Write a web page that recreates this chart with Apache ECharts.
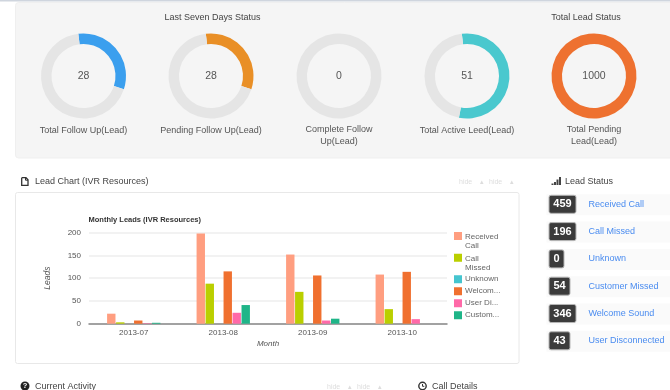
<!DOCTYPE html>
<html>
<head>
<meta charset="utf-8">
<style>
html, body { margin: 0; padding: 0; background: #fff; }
#main { width: 670px; height: 390px; }
</style>
<script src="https://cdn.jsdelivr.net/npm/echarts@6/dist/echarts.min.js"></script>
</head>
<body>
<div id="main"></div>
<script>
var FONT = '"Liberation Sans", Arial, sans-serif';

// rings
var ringCaptions = ['Total Follow Up(Lead)', 'Pending Follow Up(Lead)', 'Complete Follow\nUp(Lead)', 'Total Active Leed(Lead)', 'Total Pending\nLead(Lead)'];
var ringCounts = [28, 28, 0, 51, 1000];
var ringFilled = [32, 32, 0, 55, 100];
var ringColors = ['#3B9FEE', '#E98F26', '#E5E5E5', '#4AC8CE', '#EE7130'];

// bar chart
var months = ['2013-07', '2013-08', '2013-09', '2013-10'];
var receivedCall = [22, 198, 152, 108];
var callMissed = [3, 88, 70, 32];
var unknown = [0, 0, 0, 0];
var welcomeSound = [7, 115, 106, 114];
var userDisconnected = [1, 24, 7, 10];
var customerMissed = [2, 41, 11, 0];
var seriesNames = ['Received Call', 'Call Missed', 'Unknown', 'Welcome Sound', 'User Disconnected', 'Customer Missed'];
var seriesValues = [receivedCall, callMissed, unknown, welcomeSound, userDisconnected, customerMissed];
var seriesColors = ['#FF9E80', '#BACF00', '#45C5CF', '#F0702F', '#FF69A8', '#1FB588'];
var legendLabels = ['Received\nCall', 'Call\nMissed', 'Unknown', 'Welcom...', 'User Di...', 'Custom...'];

// side list
var statusLabels = ['Received Call', 'Call Missed', 'Unknown', 'Customer Missed', 'Welcome Sound', 'User Disconnected'];
var statusCounts = [459, 196, 0, 54, 346, 43];

var chart = echarts.init(document.getElementById('main'));

var ringX = [83.5, 211, 339, 467, 594];
var series = [];
var graphic = [];

function txt(x, y, s, size, color, align, weight) {
	graphic.push({
		type: 'text', x: x, y: y, z: 10, silent: true,
		style: { text: s, fontSize: size, fontFamily: FONT, fill: color, align: align || 'left', verticalAlign: 'middle', fontWeight: weight || 'normal', lineHeight: 12 }
	});
}
function box(x, y, w, h, fill, r, stroke) {
	graphic.push({
		type: 'rect', z: 0, silent: true,
		shape: { x: x, y: y, width: w, height: h, r: r || 0 },
		style: { fill: fill, stroke: stroke || null, lineWidth: 1 }
	});
}

// page furniture
box(0, 0, 670, 1.5, '#CFD5DE');
box(15.5, 2.5, 670, 155.5, '#F5F5F5', 3, '#EFEFEF');
box(15.5, 192.5, 503.5, 171, '#FFFFFF', 2, '#E8E8E8');
txt(212.5, 17.5, 'Last Seven Days Status', 9, '#444', 'center');
txt(586, 17.5, 'Total Lead Status', 9, '#444', 'center');

ringCaptions.forEach(function (c, i) {
	txt(ringX[i], c.indexOf('\n') > 0 ? 136 : 130.5, c, 9, '#555', 'center');
	series.push({
		type: 'pie', silent: true, animation: false, z: 3,
		center: [ringX[i], 76], radius: [32, 42.5], startAngle: 97,
		label: { show: true, position: 'center', formatter: String(ringCounts[i]), fontSize: 10.5, fontFamily: FONT, color: '#555' },
		labelLine: { show: false },
		data: [
			{ value: ringFilled[i], itemStyle: { color: ringColors[i] } },
			{ value: 100 - ringFilled[i], itemStyle: { color: '#E5E5E5' }, label: { show: false } }
		]
	});
});

seriesNames.forEach(function (n, i) {
	series.push({
		name: n, type: 'bar', data: seriesValues[i], barWidth: 8.4, barGap: '7%', animation: false,
		itemStyle: { color: seriesColors[i] }
	});
});

// headings
txt(35, 181.5, 'Lead Chart (IVR Resources)', 9, '#444');
txt(35, 386.5, 'Current Activity', 9, '#444');
txt(432, 386.5, 'Call Details', 9, '#444');
txt(565, 181.5, 'Lead Status', 9, '#444');
[[459, 182], [489, 182], [327, 387], [357, 387]].forEach(function (p) {
	txt(p[0], p[1], 'hide', 7, '#DDD');
	txt(p[0] + 21, p[1], '▴', 7, '#DDD');
});

// icons
graphic.push({ type: 'polyline', z: 10, silent: true,
	shape: { points: [[21.7, 177.7], [26, 177.7], [28, 179.7], [28, 185.3], [21.7, 185.3], [21.7, 177.7]] },
	style: { fill: null, stroke: '#333', lineWidth: 1.3 } });
graphic.push({ type: 'polyline', z: 10, silent: true,
	shape: { points: [[25.5, 177.7], [25.5, 180.2], [28, 180.2]] },
	style: { fill: null, stroke: '#333', lineWidth: 1 } });
[[551.5, 1.5], [554, 3], [556.5, 5.5], [559, 8]].forEach(function (b) {
	box(b[0], 185 - b[1], 2, b[1], '#444');
	graphic[graphic.length - 1].z = 10;
});
graphic.push({ type: 'circle', z: 10, silent: true, shape: { cx: 25, cy: 386, r: 4.5 }, style: { fill: '#222' } });
txt(25, 386, '?', 7.5, '#FFF', 'center', 'bold');
graphic[graphic.length - 1].z = 11;
graphic.push({ type: 'circle', z: 10, silent: true, shape: { cx: 422.5, cy: 386, r: 3.7 }, style: { fill: null, stroke: '#333', lineWidth: 1.4 } });
graphic.push({ type: 'polyline', z: 10, silent: true, shape: { points: [[422.5, 384], [422.5, 386.3], [424.3, 386.3]] }, style: { fill: null, stroke: '#333', lineWidth: 1 } });

// side list rows
statusLabels.forEach(function (s, i) {
	var top = 195.3 + i * 27.3;
	var w = 9 + String(statusCounts[i]).length * 6;
	box(546.5, top - 1, 124, 21, '#FAFAFA');
	box(549, top, w, 18, '#3B3B3B', 2, '#B5B5B5');
	graphic[graphic.length - 1].z = 1;
	txt(549 + w / 2, top + 9, String(statusCounts[i]), 11, '#FFF', 'center', 'bold');
	txt(588.5, top + 9, s, 9, '#4A8CF0');
});

var legendText = { fontSize: 8, fontFamily: FONT, color: '#666', lineHeight: 9.5, padding: [0, 0, 0, -2] };
function legendFmt(n) { return legendLabels[seriesNames.indexOf(n)]; }

var option = {
	animation: false,
	textStyle: { fontFamily: FONT },
	title: {
		text: 'Monthly Leads (IVR Resources)', left: 83.5, top: 210.5,
		textStyle: { fontSize: 7.5, fontWeight: 'bold', color: '#333', fontFamily: FONT }
	},
	grid: { left: 89, top: 232.7, width: 358, height: 91 },
	legend: [
		{
			left: 454, top: 232, padding: 0, orient: 'vertical', itemWidth: 8, itemHeight: 19, itemGap: 2.7,
			icon: 'path://M0 0H8V8H0Z M0 19H8V19H0Z', selectedMode: false,
			data: seriesNames.slice(0, 2), formatter: legendFmt, textStyle: legendText
		},
		{
			left: 454, top: 274.5, padding: 0, orient: 'vertical', itemWidth: 8, itemHeight: 8, itemGap: 2.5,
			icon: 'rect', selectedMode: false,
			data: seriesNames.slice(2), formatter: legendFmt, textStyle: legendText
		}
	],
	xAxis: {
		type: 'category', data: months,
		name: 'Month', nameLocation: 'middle', nameGap: 16,
		nameTextStyle: { fontSize: 8, fontStyle: 'italic', color: '#555' },
		axisLine: { lineStyle: { color: '#888', width: 1.5 } },
		axisTick: { show: false },
		axisLabel: { fontSize: 8, color: '#555', margin: 5 }
	},
	yAxis: {
		type: 'value', min: 0, max: 200, interval: 50,
		name: 'Leads', nameLocation: 'middle', nameGap: 37,
		nameTextStyle: { fontSize: 8.5, fontStyle: 'italic', color: '#555' },
		axisLine: { show: false }, axisTick: { show: false },
		axisLabel: { fontSize: 8, color: '#555', margin: 8 },
		splitLine: { lineStyle: { color: '#EEE', width: 1.5 } }
	},
	series: series,
	graphic: graphic
};
chart.setOption(option);
</script>
</body>
</html>
